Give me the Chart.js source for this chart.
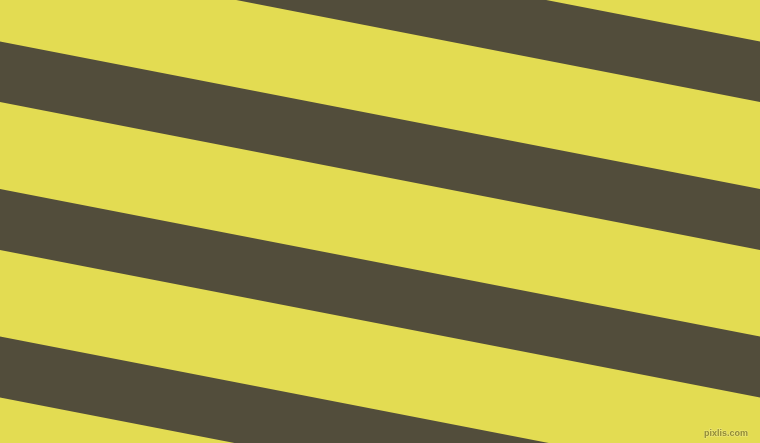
<!DOCTYPE html>
<html>
<head>
<meta charset="utf-8">
<script src="https://cdn.jsdelivr.net/npm/chart.js@4/dist/chart.umd.min.js"></script>
<style>
  html, body { margin: 0; padding: 0; background: #e3dc52; }
  #wrap { width: 760px; height: 443px; position: relative; }
</style>
</head>
<body>
<div id="wrap"><canvas id="myChart"></canvas></div>
<script>
// Stripe edges: y at the left (x=0) and right (x=760) borders
const stripeTopLeft = [-106, 41.5, 189, 336.5];
const stripeBottomLeft = [-46, 102, 250, 397.5];
const stripeTopRight = [41.5, 189, 336.5, 484];
const stripeBottomRight = [102, 250, 397.5, 545];
const xEdges = [0, 760];

const yellow = '#e3dc52';
const olive = '#524d3b';

// each stripe = top edge line + bottom edge line filled back to the top one
const datasets = [];
for (let i = 0; i < stripeTopLeft.length; i++) {
    datasets.push({
        data: [{ x: xEdges[0], y: stripeTopLeft[i] }, { x: xEdges[1], y: stripeTopRight[i] }],
        borderWidth: 0,
        pointRadius: 0,
        fill: false
    });
    datasets.push({
        data: [{ x: xEdges[0], y: stripeBottomLeft[i] }, { x: xEdges[1], y: stripeBottomRight[i] }],
        borderWidth: 0,
        pointRadius: 0,
        backgroundColor: olive,
        fill: '-1'
    });
}

const background = {
    id: 'background',
    beforeDraw(chart) {
        const ctx = chart.ctx;
        ctx.save();
        ctx.fillStyle = yellow;
        ctx.fillRect(0, 0, chart.width, chart.height);
        ctx.restore();
    },
    afterDraw(chart) {
        // small watermark in the bottom right corner
        const ctx = chart.ctx;
        ctx.save();
        ctx.font = 'bold 9px "Liberation Sans"';
        ctx.textAlign = 'right';
        ctx.textBaseline = 'alphabetic';
        ctx.lineWidth = 1.2;
        ctx.strokeStyle = '#ece67a';
        ctx.strokeText('pixlis.com', 748, 436);
        ctx.fillStyle = '#928b36';
        ctx.fillText('pixlis.com', 748, 436);
        ctx.restore();
    }
};

new Chart(document.getElementById('myChart').getContext('2d'), {
    type: 'line',
    data: { datasets: datasets },
    options: {
        responsive: true,
        maintainAspectRatio: false,
        animation: false,
        layout: { padding: 0 },
        plugins: {
            legend: { display: false },
            tooltip: { enabled: false },
            filler: { propagate: false }
        },
        scales: {
            x: { type: 'linear', min: 0, max: 760, display: false },
            y: { type: 'linear', min: 0, max: 443, reverse: true, display: false }
        }
    },
    plugins: [background]
});
</script>
</body>
</html>
